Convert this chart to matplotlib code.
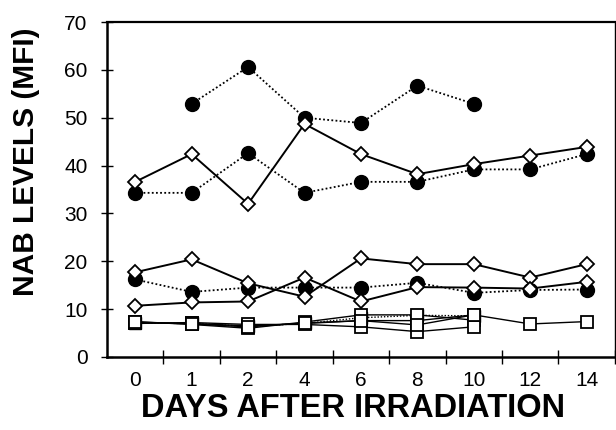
import numpy as np
import matplotlib
matplotlib.use('Agg')
import matplotlib.pyplot as plt

plt.rcParams['font.family'] = ['Liberation Sans', 'DejaVu Sans']

# days (categorical x axis)
DAYS = ['0', '1', '2', '4', '6', '8', '10', '12', '14']

# filled circles, dotted lines
circ_hi = [np.nan, 52.9, 60.6, 50.0, 48.9, 56.7, 52.9, np.nan, np.nan]
circ_mid = [34.3, 34.3, 42.6, 34.3, 36.6, 36.6, 39.2, 39.2, 42.4]
circ_lo = [16.2, 13.6, 14.5, 14.5, 14.5, 15.5, 13.4, 14.0, 14.1]

# open diamonds, solid lines
dia_hi = [36.6, 42.4, 32.0, 48.7, 42.4, 38.2, 40.3, 42.1, 43.9]
dia_mid = [17.7, 20.4, 15.4, 12.6, 20.6, 19.4, 19.4, 16.6, 19.4]
dia_lo = [10.7, 11.4, 11.6, 16.6, 11.6, 14.6, 14.5, 14.3, 15.7]

# squares
sq_a = [7.2, 7.0, 6.5, 7.0, 7.6, 7.6, 8.8, 6.9, 7.4]
sq_b = [7.4, 6.8, 6.0, 7.3, 8.8, 8.8, 7.7, np.nan, np.nan]
sq_c = [7.0, 7.2, 6.8, 6.8, 6.3, 5.3, 6.3, np.nan, np.nan]
sq_d = [7.3, 6.9, 6.3, 7.1, 7.6, 6.7, 8.8, np.nan, np.nan]
sq_filled = [7.1, 7.0, 6.4, 7.0, 8.2, 8.7, 8.6, np.nan, np.nan]

x = np.arange(len(DAYS))

fig = plt.figure(figsize=(6.16, 4.30), dpi=100)
ax = fig.add_axes([0.1737, 0.1698, 0.8245, 0.779])

dot = (0, (1, 1.3))

# squares at the bottom
ax.plot(x, sq_filled, color='black', lw=1.0, ls=dot, marker='s', ms=9,
        mfc='black', mec='black', zorder=2)
for s in [sq_a, sq_b, sq_c, sq_d]:
    ax.plot(x, s, color='black', lw=1.0, marker='s', ms=9,
            mfc='white', mec='black', mew=1.3, zorder=3)

# circles
for s in [circ_hi, circ_mid, circ_lo]:
    ax.plot(x, s, color='black', lw=1.3, ls=dot, marker='o', ms=10,
            mfc='black', mec='black', zorder=4)

# diamonds
for s in [dia_hi, dia_mid, dia_lo]:
    ax.plot(x, s, color='black', lw=1.4, marker='D', ms=7.5,
            mfc='white', mec='black', mew=1.3, zorder=5)

ax.set_xlim(-0.5, 8.5)
ax.set_ylim(0, 70)
ax.set_yticks(np.arange(0, 71, 10))
ax.tick_params(axis='y', direction='inout', length=8, width=1, pad=10,
               labelsize=15)

# category labels centred, tick marks between categories
ax.set_xticks(x + 0.5)
ax.set_xticklabels([])
ax.set_xticks(x, minor=True)
ax.set_xticklabels(DAYS, minor=True)
ax.tick_params(axis='x', which='major', direction='inout', length=10, width=1)
ax.tick_params(axis='x', which='minor', length=0, pad=10, labelsize=15)

for side in ['left', 'bottom']:
    ax.spines[side].set_linewidth(1.8)
ax.spines['top'].set_linewidth(1.6)
ax.spines['right'].set_linewidth(1.0)

fig.text(0.042, 0.623, 'NAB LEVELS (MFI)', rotation=90, ha='center',
         va='center', fontsize=21.5, fontweight='bold')
fig.text(0.573, 0.030, 'DAYS AFTER IRRADIATION', ha='center', va='baseline',
         fontsize=23.5, fontweight='bold')

fig.savefig('out.png', dpi=100)
